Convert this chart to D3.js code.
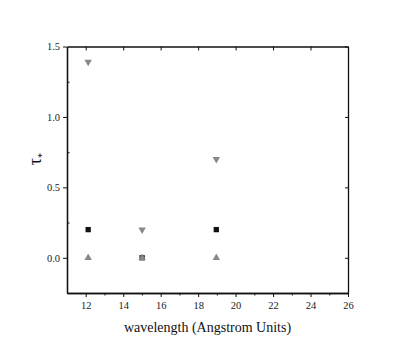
<!DOCTYPE html>
<meta charset="utf-8">
<style>
body {
    margin: 0px;
    background: white;
    font-family: "Liberation Serif", "Times New Roman", serif;
}
.tick text {
  font-family: "Liberation Serif", serif;
  font-size: 10.5px;
  fill: #222;
}
.axis-label {
  font-family: "Liberation Serif", serif;
  fill: #111;
}
</style>
<body>
<script src="https://d3js.org/d3.v7.min.js"></script>
<script>
var width = 403,
    height = 352

// wavelengths of the three lines (Angstrom)
var wavelengths = [12.13, 15.01, 18.97]

// tau* values per series
var squareVals = [0.2, 0.0, 0.2]
var upVals = [0.0, 0.0, 0.0]
var downVals = [1.39, 0.2, 0.7]

var xTicks = [12, 14, 16, 18, 20, 22, 24, 26]
var yTicks = [0.0, 0.5, 1.0, 1.5]

var margin = {left: 67, top: 46.5, right: 55, bottom: 59}

var x = d3.scaleLinear()
    .domain([11, 26])
    .range([margin.left, width - margin.right])

var y = d3.scaleLinear()
    .domain([-0.25, 1.5])
    .range([height - margin.bottom, margin.top])

var svg = d3.select("body").append("svg")
    .attr("width", width)
    .attr("height", height)

var fmt = d3.format(".1f")

// bottom axis, majors with labels
svg.append("g")
    .attr("transform", "translate(0," + y(-0.25) + ")")
    .call(d3.axisBottom(x).tickValues(xTicks).tickSize(4).tickSizeOuter(0).tickPadding(5).tickFormat(d3.format("d")))
// bottom minor ticks
svg.append("g")
    .attr("transform", "translate(0," + y(-0.25) + ")")
    .call(d3.axisBottom(x).tickValues([13, 15, 17, 19, 21, 23, 25]).tickSize(2.5).tickSizeOuter(0).tickFormat(""))

// top axis, inward ticks
svg.append("g")
    .attr("transform", "translate(0," + y(1.5) + ")")
    .call(d3.axisBottom(x).tickValues(xTicks).tickSize(4).tickSizeOuter(0).tickFormat(""))

// left axis
svg.append("g")
    .attr("transform", "translate(" + x(11) + ",0)")
    .call(d3.axisLeft(y).tickValues(yTicks).tickSize(4).tickSizeOuter(0).tickPadding(3).tickFormat(fmt))
svg.append("g")
    .attr("transform", "translate(" + x(11) + ",0)")
    .call(d3.axisRight(y).tickValues([1.25, 0.75, 0.25]).tickSize(2.5).tickSizeOuter(0).tickFormat(""))

// right axis, inward ticks
svg.append("g")
    .attr("transform", "translate(" + x(26) + ",0)")
    .call(d3.axisLeft(y).tickValues(yTicks).tickSize(3).tickSizeOuter(0).tickFormat(""))

svg.selectAll(".domain")
    .attr("stroke", "#111")
    .attr("stroke-width", 1.3)
svg.selectAll(".tick line")
    .attr("stroke", "#111")

// markers
var sq = d3.symbol().type(d3.symbolSquare).size(28)
var tri = d3.symbol().type(d3.symbolTriangle).size(24)

svg.selectAll(".sq")
    .data(wavelengths)
    .enter()
    .append("path")
    .attr("class", "sq")
    .attr("d", sq)
    .attr("transform", function(d, i) { return "translate(" + x(d) + "," + y(squareVals[i]) + ")" })
    .attr("fill", "#111")

svg.selectAll(".up")
    .data(wavelengths)
    .enter()
    .append("path")
    .attr("class", "up")
    .attr("d", tri)
    .attr("transform", function(d, i) { return "translate(" + x(d) + "," + y(upVals[i]) + ")" })
    .attr("fill", "#888")

svg.selectAll(".down")
    .data(wavelengths)
    .enter()
    .append("path")
    .attr("class", "down")
    .attr("d", tri)
    .attr("transform", function(d, i) { return "translate(" + x(d) + "," + y(downVals[i]) + ") rotate(180)" })
    .attr("fill", "#888")

// axis titles
svg.append("text")
    .attr("class", "axis-label")
    .attr("x", (x(11) + x(26)) / 2)
    .attr("y", 332)
    .attr("text-anchor", "middle")
    .style("font-size", "14px")
    .text("wavelength (Angstrom Units)")

var yl = svg.append("text")
    .attr("class", "axis-label")
    .attr("transform", "translate(41," + y(0.7) + ") rotate(-90)")
    .attr("text-anchor", "middle")
    .style("font-size", "18px")
yl.append("tspan").text("τ")
yl.append("tspan").attr("dy", 4).style("font-size", "10px").text("*")
</script>
